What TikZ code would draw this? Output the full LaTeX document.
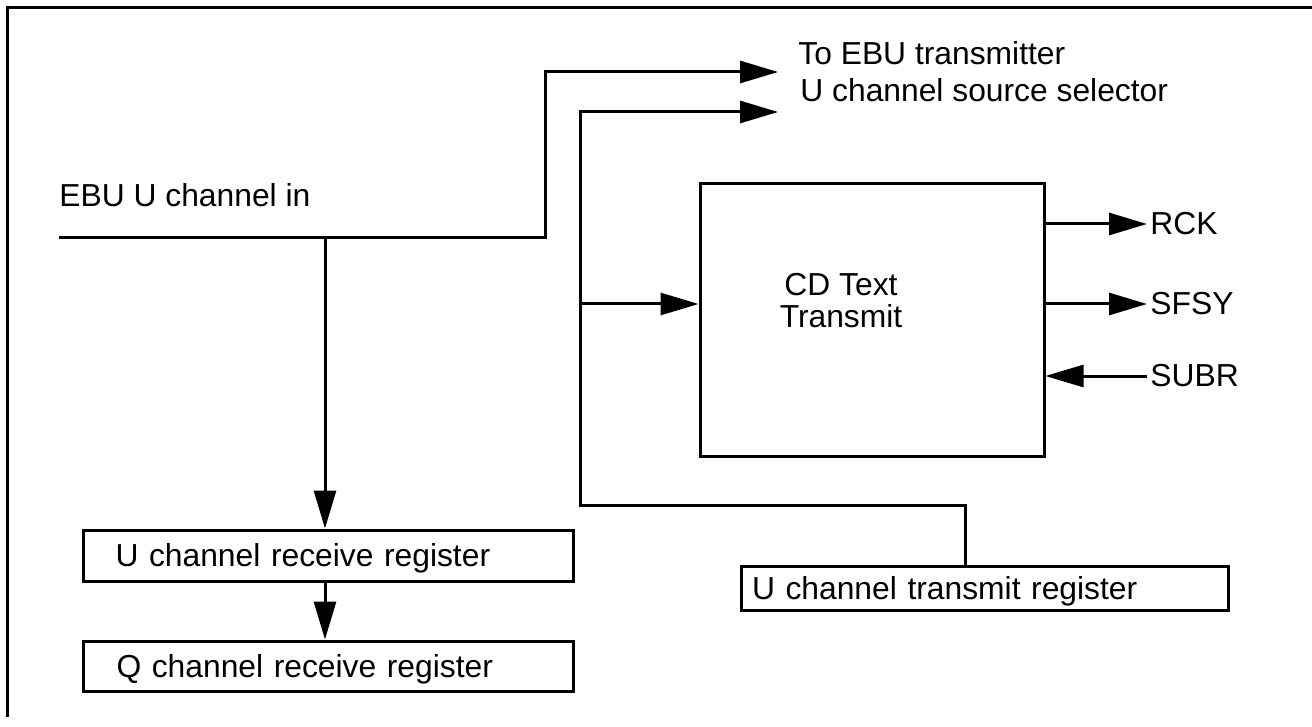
\documentclass[tikz,border=0pt]{standalone}
\usepackage{fontspec}
\setmainfont{Liberation Sans}
\usetikzlibrary{arrows.meta}
\begin{document}
\begin{tikzpicture}[x=0.5pt,y=-0.5pt,
  wire/.style={line width=1.5pt},
  arr/.style={wire,-{Triangle[length=19pt,width=11pt]}},
  lbl/.style={inner sep=0pt,font=\fontsize{15.9}{16}\selectfont},
  regbox/.style={draw,line width=1.5pt,inner ysep=0pt,align=left,
    text height=11.4pt,text depth=0pt,font=\fontsize{15.9}{16}\selectfont},
  bigbox/.style={draw,line width=1.5pt,inner sep=0pt}]
\useasboundingbox (0,0) rectangle (1312,727);
% outer frame
\draw[wire] (7.5,717) -- (7.5,7.5) -- (1312,7.5);

% boxes
\node[bigbox,minimum width=172pt,minimum height=136pt] (cd) at (872,320) {};
\node[lbl,align=center] (cdl) at (841,301) {CD Text\\Transmit};
\node[regbox,minimum height=25.5pt,text width=212.75pt,inner xsep=16pt] (urx) at (328.25,555.5) {U channel receive register};
\node[regbox,minimum height=25pt,text width=211.75pt,inner xsep=16.5pt] (qrx) at (328.25,666) {Q channel receive register};
\node[regbox,minimum height=22pt,text width=232.5pt,inner xsep=5.5pt] (xmt) at (984.5,588) {U channel transmit register};

% labels
\node[lbl,anchor=base west] (inl) at (59,207) {EBU U channel in};
\node[lbl,anchor=base west] (tebu) at (798,65) {To EBU transmitter};
\node[lbl,anchor=base west] (usel) at (800,102) {U channel source selector};
\node[lbl,anchor=west] (rck) at (1150,224) {RCK};
\node[lbl,anchor=west] (sfsy) at (1150,304) {SFSY};
\node[lbl,anchor=west] (subr) at (1150,376) {SUBR};

% coordinates
\coordinate (in0) at (59,238);
\coordinate (tap) at (325,238);
\coordinate (tipA) at (778,72);
\coordinate (tipB) at (778,112);
\coordinate (xt) at (965,505);
\coordinate (bend) at (580,505);
\coordinate (j1) at (580,304);

% connectors
\draw[arr] (in0) -- (545,238) |- (tipA);
\draw[arr] (tap) -- (tap |- urx.north);
\draw[arr] (tap |- urx.south) -- (tap |- qrx.north);
\draw[arr] (xt |- xmt.north) -- (xt) -- (bend) |- (tipB);
\draw[arr] (j1) -- (j1 -| cd.west);
\draw[arr] (rck.west -| cd.east) -- ([xshift=-1.5pt]rck.west);
\draw[arr] (sfsy.west -| cd.east) -- ([xshift=-1.5pt]sfsy.west);
\draw[arr] ([xshift=-1.5pt]subr.west) -- (subr.west -| cd.east);
\end{tikzpicture}
\end{document}
